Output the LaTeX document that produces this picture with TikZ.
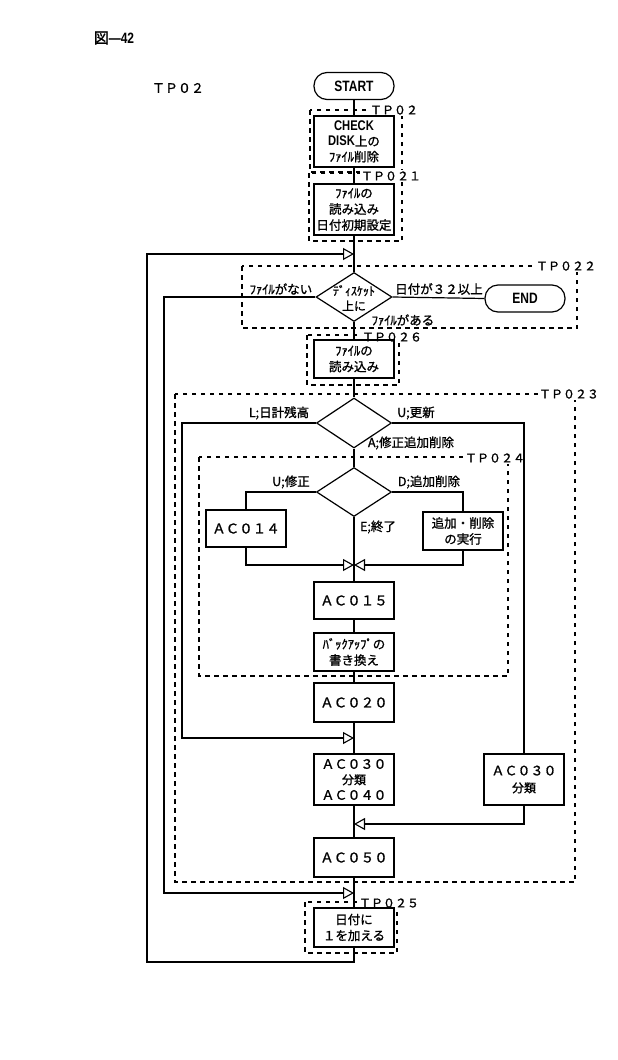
\documentclass[tikz,border=0pt]{standalone}
\usepackage{fontspec}
\setmainfont{Noto Sans CJK JP}[FakeBold=1.2]
\newfontfamily\cond[FakeStretch=0.8]{Liberation Sans}
\usetikzlibrary{arrows.meta,shapes.geometric}
\begin{document}
\begin{tikzpicture}[x=1pt,y=-1pt,
 line width=1.2pt,
 box/.style={draw,rectangle,minimum width=80pt,inner sep=1pt,align=center,font=\fontsize{12.5}{16}\selectfont},
 acbox/.style={box,font=\fontsize{13.5}{16}\selectfont},
 term/.style={draw,rectangle,rounded corners=13pt,minimum width=80pt,minimum height=27pt,font=\cond\bfseries\fontsize{15}{17}\selectfont},
 dec/.style={draw,diamond,minimum width=76pt,minimum height=49pt,inner sep=0pt},
 grp/.style={draw,line width=1.1pt,dash pattern=on 4.5pt off 4.5pt},
 tpl/.style={fill=white,inner sep=1pt,font=\fontsize{12}{13}\selectfont},
 lbl/.style={inner sep=1pt,font=\fontsize{12.5}{14}\selectfont},
 tri/.style={-{Triangle[open,length=11pt,width=12pt,line width=1.1pt]}}
]
\useasboundingbox (0,0) rectangle (618,1060);

% titles
\node[font=\fontsize{15}{17}\selectfont] (title) at (114,38) {図{\cond\bfseries —42}};
\node[font=\fontsize{13}{15}\selectfont] (tpmain) at (178,88) {ＴＰ０２};

% group frames
\draw[grp] (310,110) rectangle (402,172);
\draw[grp] (309,173) rectangle (402,241);
\draw[grp] (242,266) rectangle (577,328);
\draw[grp] (307,335) rectangle (399,385);
\draw[grp] (175,394) rectangle (575,882);
\draw[grp] (199,457) rectangle (508,676);
\draw[grp] (305,902) rectangle (397,953);
\node[tpl] (tp02) at (394,110) {ＴＰ０２};
\node[tpl] (tp021) at (391,176) {ＴＰ０２１};
\node[tpl] (tp022) at (566,266) {ＴＰ０２２};
\node[tpl] (tp026) at (392,337) {ＴＰ０２６};
\node[tpl] (tp023) at (569,394) {ＴＰ０２３};
\node[tpl] (tp024) at (495,458) {ＴＰ０２４};
\node[tpl] (tp025) at (389,903) {ＴＰ０２５};

% main column
\node[term] (start) at (354,86) {START};
\node[box,minimum height=51pt,font=\fontsize{12.5}{15.5}\selectfont] (check) at (354,141.5) {{\cond\bfseries\fontsize{14}{15}\selectfont CHECK}\\{\cond\bfseries\fontsize{14}{15}\selectfont DISK}上の\\ﾌｧｲﾙ削除};
\node[box,minimum height=51pt] (load1) at (354,209.5) {ﾌｧｲﾙの\\読み込み\\日付初期設定};
\coordinate (j1) at (354,254);
\node[dec] (d1) at (354,297) {};
\node[font=\fontsize{12}{15}\selectfont,align=center,inner sep=0pt] (d1t) at (354,298) {ﾃﾞｨｽｹｯﾄ\\上に};
\node[term] (end) at (525,298.5) {END};
\node[box,minimum height=38pt] (load2) at (354,359) {ﾌｧｲﾙの\\読み込み};
\node[dec,minimum width=75pt,minimum height=50pt] (d2) at (354,423) {};
\node[dec,minimum width=75pt] (d3) at (354,492) {};
\node[acbox,minimum height=37pt] (ac014) at (246,528.5) {ＡＣ０１４};
\node[box,minimum height=38pt] (exec) at (463,531) {追加・削除\\の実行};
\coordinate (m) at (354,565);
\node[acbox,minimum height=37pt] (ac015) at (354,600.5) {ＡＣ０１５};
\node[box,minimum height=38pt] (backup) at (354,652) {ﾊﾞｯｸｱｯﾌﾟの\\書き換え};
\node[acbox,minimum height=39pt] (ac020) at (354,702.5) {ＡＣ０２０};
\coordinate (j3) at (354,738);
\node[box,minimum height=51pt,font=\fontsize{13}{15.5}\selectfont] (ac3040) at (354,779.5) {ＡＣ０３０\\{\fontsize{12}{15.5}\selectfont 分類}\\ＡＣ０４０};
\node[box,minimum height=51pt,font=\fontsize{13}{17}\selectfont] (ac030) at (524,779.5) {ＡＣ０３０\\{\fontsize{12}{15.5}\selectfont 分類}};
\coordinate (j4) at (354,824);
\node[acbox,minimum height=39pt] (ac050) at (354,857.5) {ＡＣ０５０};
\coordinate (j2) at (354,893);
\node[box,minimum height=39pt] (add1) at (354,927.5) {日付に\\１を加える};
\coordinate (lb) at (147,962);
\coordinate (l2) at (164,893);
\coordinate (l3) at (182,738);

% labels
\node[lbl] (nofile) at (281,289) {ﾌｧｲﾙがない};
\node[lbl] (over32) at (439,289) {日付が３２以上};
\node[lbl] (hasfile) at (403,320) {ﾌｧｲﾙがある};
\node[lbl] (lzan) at (279,413) {L;日計残高};
\node[lbl] (uupd) at (416,413) {U;更新};
\node[lbl] (amod) at (411,443) {A;修正追加削除};
\node[lbl] (umod) at (291,482) {U;修正};
\node[lbl] (dadd) at (429,482) {D;追加削除};
\node[lbl] (eend) at (378,527) {E;終了};

% connectors
\draw (start) -- (check);
\draw (check) -- (load1);
\draw (load1) -- (d1);
\draw (d1.east) -- (end.west);
\draw (d1) -- (load2);
\draw (load2) -- (d2);
\draw (d2) -- (d3);
\draw (d3.south) -- (ac015.north);
\draw (d3.west) -| (ac014.north);
\draw (d3.east) -| (exec.north);
\draw[tri] (ac014.south) |- (m);
\draw[tri] (exec.south) |- (m);
\draw (ac015) -- (backup);
\draw (backup) -- (ac020);
\draw (ac020) -- (ac3040);
\draw (ac3040) -- (ac050);
\draw (ac050) -- (add1);
\draw (d2.east) -| (ac030.north);
\draw[tri] (ac030.south) |- (j4);
\draw[tri] (d2.west) -| (l3) -- (j3);
\draw[tri] (d1.west) -| (l2) -- (j2);
\draw[tri] (add1.south) |- (lb) |- (j1);
\end{tikzpicture}
\end{document}
